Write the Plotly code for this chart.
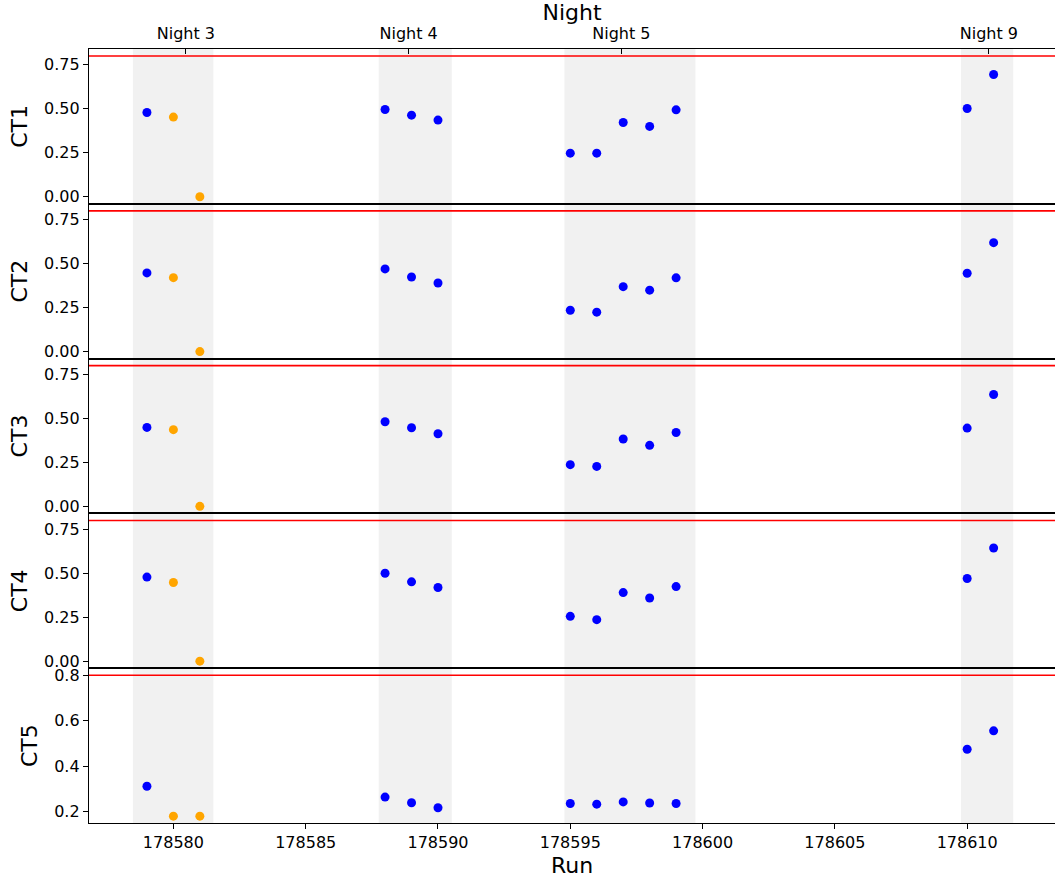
import plotly.graph_objects as go
from plotly.subplots import make_subplots

# ---- data ----
runs = [178579, 178580, 178581, 178588, 178589, 178590,
        178595, 178596, 178597, 178598, 178599, 178610, 178611]
flagged = [False, True, True, False, False, False,
           False, False, False, False, False, False, False]

panel_names = ["CT1", "CT2", "CT3", "CT4", "CT5"]
ct1 = [0.479, 0.453, 0.000, 0.496, 0.464, 0.436, 0.248, 0.248, 0.422, 0.400, 0.494, 0.502, 0.695]
ct2 = [0.447, 0.420, 0.000, 0.470, 0.424, 0.390, 0.235, 0.224, 0.369, 0.349, 0.419, 0.445, 0.619]
ct3 = [0.449, 0.436, 0.000, 0.481, 0.447, 0.413, 0.237, 0.227, 0.383, 0.347, 0.420, 0.445, 0.636]
ct4 = [0.478, 0.447, 0.000, 0.500, 0.451, 0.419, 0.255, 0.236, 0.390, 0.359, 0.424, 0.470, 0.643]
ct5 = [0.311, 0.179, 0.179, 0.263, 0.238, 0.216, 0.235, 0.232, 0.242, 0.237, 0.235, 0.474, 0.555]
series = [ct1, ct2, ct3, ct4, ct5]

threshold = 0.8

night_labels = ["Night 3", "Night 4", "Night 5", "Night 9"]
night_tick_pos = [178580.47, 178588.89, 178596.93, 178610.82]
band_start = [178578.47, 178587.76, 178594.78, 178609.77]
band_end = [178581.51, 178590.52, 178599.73, 178611.74]

run_ticks = [178580, 178585, 178590, 178595, 178600, 178605, 178610]
run_tick_text = ["178580", "178585", "178590", "178595", "178600", "178605", "178610"]

ytick_std = [0.0, 0.25, 0.5, 0.75]
ytick_ct5 = [0.2, 0.4, 0.6, 0.8]

# ---- styling ----
FONT = "DejaVu Sans"
BLUE = "#0000ff"
ORANGE = "#ffa500"
BAND = "rgb(241,241,241)"
xrange_ = [178576.81, 178613.32]
yranges = [[-0.04, 0.84]] * 4 + [[0.149, 0.831]]

fig = make_subplots(rows=5, cols=1, shared_xaxes=True, vertical_spacing=0)

colors = [ORANGE if f else BLUE for f in flagged]
for i, vals in enumerate(series):
    fig.add_trace(go.Scatter(x=runs, y=vals, mode="markers",
                             marker=dict(color=colors, size=9, line=dict(width=0)),
                             showlegend=False, hoverinfo="x+y"),
                  row=i + 1, col=1)

# dummy trace for the top "Night" axis
fig.add_trace(go.Scatter(x=night_tick_pos, y=[None] * len(night_tick_pos),
                         xaxis="x6", yaxis="y", mode="markers",
                         showlegend=False, hoverinfo="skip"))

shapes = []
for s, e in zip(band_start, band_end):
    shapes.append(dict(type="rect", xref="x", yref="paper", x0=s, x1=e, y0=0, y1=1,
                       fillcolor=BAND, line=dict(width=0), layer="below"))
for i in range(5):
    yref = "y" if i == 0 else f"y{i+1}"
    shapes.append(dict(type="line", xref="paper", yref=yref, x0=0, x1=1,
                       y0=threshold, y1=threshold,
                       line=dict(color="#ff0000", width=1.6), layer="above"))
fig.update_layout(shapes=shapes)

for i in range(5):
    r = i + 1
    fig.update_xaxes(row=r, col=1, range=xrange_, showline=True, linecolor="black",
                     linewidth=1.3, mirror=True, showgrid=False, zeroline=False,
                     automargin=False)
    if i == 4:
        tv, tt = ytick_ct5, [f"{v:.1f}" for v in ytick_ct5]
    else:
        tv, tt = ytick_std, [f"{v:.2f}" for v in ytick_std]
    fig.update_yaxes(row=r, col=1, range=yranges[i], tickvals=tv, ticktext=tt,
                     ticks="outside", ticklen=5, tickwidth=1.2, tickcolor="black",
                     showline=True, linecolor="black", linewidth=1.3, mirror=False,
                     showgrid=False, zeroline=False, automargin=False,
                     tickfont=dict(family=FONT, size=16, color="black"),
                     title=dict(text=panel_names[i], standoff=10,
                                font=dict(family=FONT, size=22, color="black")))

fig.update_xaxes(row=5, col=1, tickvals=run_ticks, ticktext=run_tick_text,
                 ticks="outside", ticklen=5, tickwidth=1.2, tickcolor="black",
                 showticklabels=True,
                 tickfont=dict(family=FONT, size=16, color="black"),
                 title=dict(text="Run", standoff=6,
                            font=dict(family=FONT, size=22, color="black")))

fig.update_layout(
    xaxis6=dict(overlaying="x", anchor="y", side="top", range=xrange_,
                tickvals=night_tick_pos, ticktext=night_labels,
                ticks="inside", ticklen=5, tickwidth=1.2, tickcolor="black",
                ticklabelstandoff=6,
                showline=False, showgrid=False, zeroline=False, automargin=False,
                tickfont=dict(family=FONT, size=16, color="black"),
                title=dict(text="Night", standoff=0,
                           font=dict(family=FONT, size=22, color="black"))),
    width=1055, height=885,
    margin=dict(l=89, r=0, t=49, b=62, pad=0),
    plot_bgcolor="white", paper_bgcolor="white",
    font=dict(family=FONT, color="black"),
)

fig.write_html("out.html")
